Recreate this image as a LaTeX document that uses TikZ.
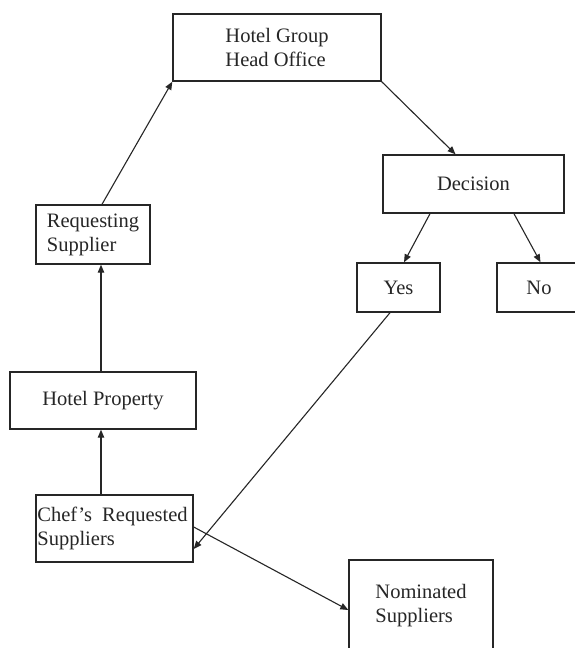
\documentclass[tikz,border=0pt]{standalone}
\usepackage{fontspec}
\setmainfont{Liberation Serif}
\usetikzlibrary{arrows.meta}
\begin{document}
\begin{tikzpicture}[x=1pt,y=-1pt,
  box/.style={draw=black!85, line width=1.4pt, rectangle, inner sep=0pt,
    align=left, font=\fontsize{20.5}{24}\selectfont, text=black!85},
  link/.style={draw=black!85, line width=1.1pt, -{Triangle[length=8pt,width=6.5pt]}}]
  \clip (0,0) rectangle (575,648);
  \fill[white] (0,0) rectangle (575,648);

  % boxes (centre, width, height in px)
  \node[box, minimum width=208, minimum height=67] (ho)  at (277,47.5)  {Hotel Group\\Head Office};
  \node[box, minimum width=181, minimum height=58] (dec) at (473.5,184) {Decision};
  \node[box, minimum width=83,  minimum height=49] (yes) at (398.5,287.5) {Yes};
  \node[box, minimum width=84,  minimum height=49] (no)  at (539,287.5) {No};
  \node[box, minimum width=114, minimum height=59] (req) at (93,234.5)  {Requesting\\Supplier};
  \node[box, minimum width=186, minimum height=57] (hp)  at (103,400.5) {Hotel Property};
  \node[box, minimum width=157, minimum height=67] (chef) at (114.5,528.5) {\hspace*{-4pt}Chef’s\ \ Requested\\\hspace*{-4pt}Suppliers};
  \node[box, minimum width=144, minimum height=92] (nom) at (421,606) {Nominated\\Suppliers};

  % connectors
  \draw[link] ([xshift=9]req.north) -- (ho.south west);
  \draw[link] (ho.south east) -- ([xshift=-18]dec.north);
  \draw[link] ([xshift=-43.5]dec.south) -- ([xshift=5.5]yes.north);
  \draw[link] ([xshift=40.5]dec.south) -- ([xshift=1.5]no.north);
  \draw[link] ([xshift=-2]hp.north) -- ([xshift=8]req.south);
  \draw[link] ([xshift=-13.5]chef.north) -- ([xshift=-2]hp.south);
  \draw[link] ([xshift=-8.5]yes.south) -- ([yshift=-20.5]chef.east);
  \draw[link] ([yshift=1.5]chef.east) -- ([yshift=-4]nom.west);
\end{tikzpicture}
\end{document}
